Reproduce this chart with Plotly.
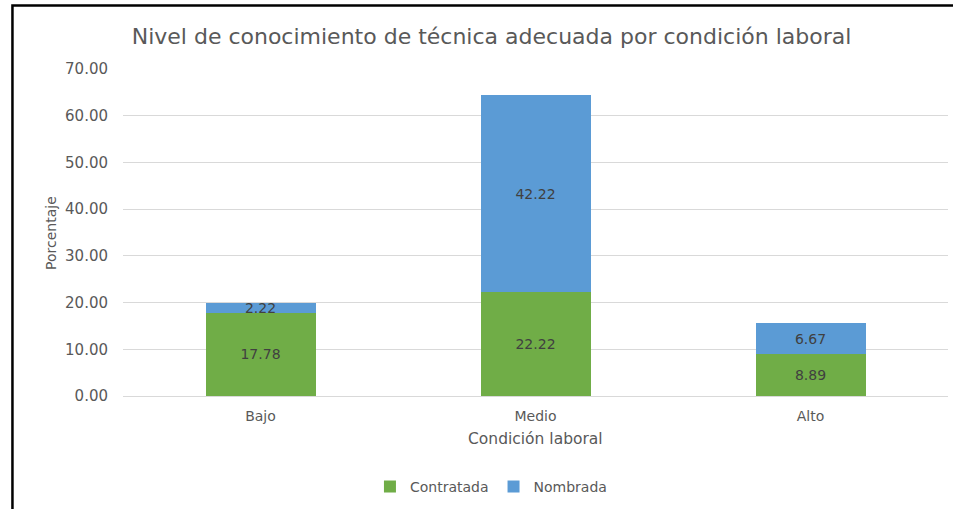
import plotly.graph_objects as go

categories = ["Bajo", "Medio", "Alto"]
contratada = [17.78, 22.22, 8.89]
nombrada = [2.22, 42.22, 6.67]
y_ticks = [0, 10, 20, 30, 40, 50, 60, 70]

FONT = "DejaVu Sans"
GRAY = "#595959"

fig = go.Figure()
fig.add_trace(go.Bar(
    name="Contratada", x=categories, y=contratada,
    marker=dict(color="#70AD47", line=dict(width=0)),
    text=[f"{v:.2f}" for v in contratada], textposition="inside",
    insidetextanchor="middle", textangle=0,
    textfont=dict(family=FONT, size=14, color="#404040"),
    constraintext="none",
))
fig.add_trace(go.Bar(
    name="Nombrada", x=categories, y=nombrada,
    marker=dict(color="#5B9BD5", line=dict(width=0)),
    text=[f"{v:.2f}" for v in nombrada], textposition="inside",
    insidetextanchor="middle", textangle=0,
    textfont=dict(family=FONT, size=14, color="#404040"),
    constraintext="none",
))

fig.update_layout(
    barmode="stack",
    bargap=0.6,
    width=953, height=509,
    margin=dict(l=123, r=5, t=69, b=113),
    paper_bgcolor="white", plot_bgcolor="white",
    font=dict(family=FONT, color=GRAY, size=13),
    title=dict(text="Nivel de conocimiento de técnica adecuada por condición laboral",
               x=(133 + 850) / 2 / 953, xanchor="center", y=1 - 36 / 509, yanchor="middle",
               font=dict(family=FONT, size=22, color=GRAY)),
    showlegend=True,
    legend=dict(orientation="h", x=0.446, xanchor="center", y=-0.278, yanchor="middle",
                font=dict(family=FONT, size=14, color=GRAY), itemwidth=30,
                traceorder="normal"),
    xaxis=dict(showgrid=False, showline=False, zeroline=False,
               tickfont=dict(family=FONT, size=14, color=GRAY), ticklabelstandoff=10),
    yaxis=dict(range=[0, 70], tickvals=y_ticks, tickformat=".2f",
               showgrid=True, gridcolor="#D9D9D9", gridwidth=1,
               zeroline=True, zerolinecolor="#D9D9D9", zerolinewidth=1,
               showline=False, ticklabelstandoff=14,
               tickfont=dict(family=FONT, size=15, color=GRAY)),
    annotations=[
        dict(text="Condición laboral", xref="paper", yref="paper", x=0.5, y=-0.13,
             xanchor="center", yanchor="middle", showarrow=False,
             font=dict(family=FONT, size=15.5, color=GRAY)),
        dict(text="Porcentaje", xref="paper", yref="paper", x=-0.088, y=0.5,
             xanchor="center", yanchor="middle", showarrow=False, textangle=-90,
             font=dict(family=FONT, size=14, color=GRAY)),
    ],
    shapes=[
        dict(type="rect", xref="paper", yref="paper", x0=-0.134, x1=1.2, y0=-0.6, y1=1.194,
             line=dict(color="black", width=2.5), fillcolor="rgba(0,0,0,0)", layer="above"),
    ],
)

fig.write_html("out.html", config={"displayModeBar": False},
               post_script="document.body.style.margin='0';window.dispatchEvent(new Event('resize'));")
